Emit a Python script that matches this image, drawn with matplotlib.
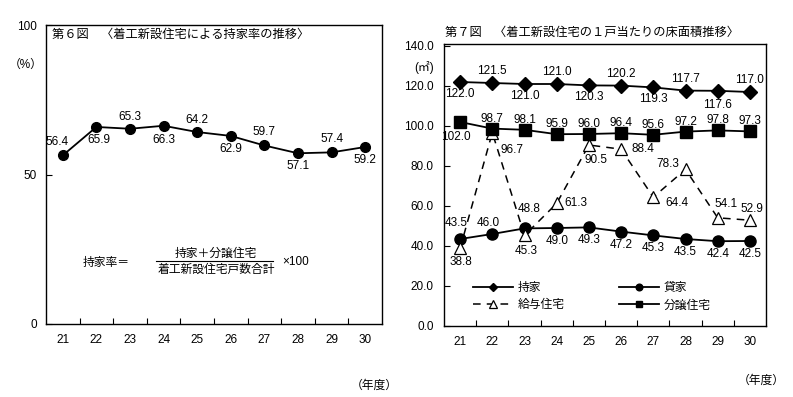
import matplotlib.pyplot as plt
from matplotlib.ticker import FixedLocator

plt.rcParams['font.family'] = ['Liberation Sans', 'Noto Sans CJK JP', 'DejaVu Sans']

years = ['21', '22', '23', '24', '25', '26', '27', '28', '29', '30']

# 第6図 持家率 (%)
owner_rate = [56.4, 65.9, 65.3, 66.3, 64.2, 62.9, 59.7, 57.1, 57.4, 59.2]

# 第7図 床面積 (m2)
mochiie = [122.0, 121.5, 121.0, 121.0, 120.3, 120.2, 119.3, 117.7, 117.6, 117.0]
kashiya = [43.5, 46.0, 48.8, 49.0, 49.3, 47.2, 45.3, 43.5, 42.4, 42.5]
kyuyo = [38.8, 96.7, 45.3, 61.3, 90.5, 88.4, 64.4, 78.3, 54.1, 52.9]
bunjo = [102.0, 98.7, 98.1, 95.9, 96.0, 96.4, 95.6, 97.2, 97.8, 97.3]

fig = plt.figure(figsize=(7.93, 3.97), dpi=100)
W, H = 793, 397


def px(x, y):
    return x / W, 1 - y / H


def setup_cat_axis(ax, ypad):
    ax.set_xlim(-0.5, 9.5)
    ax.set_xticks(range(10))
    ax.set_xticklabels(years, fontsize=8.5)
    ax.xaxis.set_minor_locator(FixedLocator([i + 0.5 for i in range(9)]))
    ax.tick_params(axis='x', which='major', length=0, pad=7)
    ax.tick_params(axis='x', which='minor', direction='in', length=4, width=0.8)
    ax.tick_params(axis='y', direction='in', length=4, width=0.8, labelsize=8.5, pad=ypad)
    for s in ax.spines.values():
        s.set_linewidth(1.0)


def label(ax, x, y, text, dx, dy, fs=8.5):
    # dx, dy in pixels
    ax.annotate(text, (x, y), xytext=(dx * 0.72, dy * 0.72), textcoords='offset points',
                ha='center', va='center', fontsize=fs)


# ---- left chart ----
ax1 = fig.add_axes([46 / W, 1 - 324 / H, (382 - 46) / W, (324 - 25) / H])
x = list(range(10))
ax1.plot(x, owner_rate, color='black', lw=1.3, marker='o', ms=7)
ax1.set_ylim(0, 100)
ax1.set_yticks([0, 50, 100])
ax1.set_yticklabels(['0', '50', '100'])
setup_cat_axis(ax1, 6.5)

offs1 = [(-6, 13), (2, -13), (0, 12), (0, -14), (0, 12), (0, -13), (0, 13), (0, -13), (0, 13), (0, -13)]
for i, v in enumerate(owner_rate):
    label(ax1, i, v, f'{v:.1f}', offs1[i][0], offs1[i][1])

ax1.text(0.018, 0.966, '第６図　〈着工新設住宅による持家率の推移〉',
         transform=ax1.transAxes, fontsize=8.8, ha='left', va='center')
ax1.text(0.18, 0.204, '持家率＝', transform=ax1.transAxes, fontsize=8.5, ha='center', va='center')
ax1.text(0.506, 0.236, '持家＋分譲住宅', transform=ax1.transAxes, fontsize=8.5, ha='center', va='center')
ax1.plot([0.327, 0.676], [0.211, 0.211], transform=ax1.transAxes, color='black', lw=0.8)
ax1.text(0.506, 0.180, '着工新設住宅戸数合計', transform=ax1.transAxes, fontsize=8.5, ha='center', va='center')
ax1.text(0.703, 0.207, '×100', transform=ax1.transAxes, fontsize=8.5, ha='left', va='center')

fig.text(*px(26, 65), '（%）', fontsize=8.5, ha='center', va='center')
fig.text(*px(374, 386), '（年度）', fontsize=8.5, ha='center', va='center')

# ---- right chart ----
ax2 = fig.add_axes([444 / W, 1 - 326 / H, (766 - 444) / W, (326 - 44) / H])
l1, = ax2.plot(x, mochiie, color='black', lw=1.3, marker='D', ms=7, label='持家')
l2, = ax2.plot(x, kashiya, color='black', lw=1.3, marker='o', ms=8, label='貸家')
l3, = ax2.plot(x, kyuyo, color='black', lw=1.1, ls=(0, (5, 4)), marker='^', ms=9,
               mfc='white', mec='black', mew=0.9, label='給与住宅')
l4, = ax2.plot(x, bunjo, color='black', lw=1.3, marker='s', ms=8, label='分譲住宅')
ax2.set_ylim(0, 141)
ax2.set_yticks(range(0, 141, 20))
ax2.set_yticklabels([f'{t:.1f}' for t in range(0, 141, 20)])
setup_cat_axis(ax2, 7.5)

offs_m = [(0, -12), (0, 12), (0, -12), (0, 12), (0, -12), (0, 12), (0, -12), (0, 12), (0, -14), (0, 12)]
offs_b = [(-4, -15), (0, 10), (0, 10), (0, 10), (0, 10), (0, 10), (0, 10), (0, 10), (0, 10), (0, 10)]
offs_k = [(1, -14), (20, -17), (2, -16), (19, 0), (7, -15), (22, 0), (24, -6), (-18, 5), (8, 14), (2, 11)]
offs_s = [(-4, 16), (-4, 11), (5, 19), (0, -13), (0, -13), (0, -13), (0, -13), (0, -13), (0, -13), (0, -13)]
for i in range(10):
    label(ax2, i, mochiie[i], f'{mochiie[i]:.1f}', *offs_m[i])
    label(ax2, i, bunjo[i], f'{bunjo[i]:.1f}', *offs_b[i])
    label(ax2, i, kyuyo[i], f'{kyuyo[i]:.1f}', *offs_k[i])
    label(ax2, i, kashiya[i], f'{kashiya[i]:.1f}', *offs_s[i])

ax2.legend(handles=[l1, l3, l2, l4], ncol=2, frameon=False, fontsize=8.5,
           loc='lower left', bbox_to_anchor=(0.075, 0.035), borderaxespad=0,
           handlelength=3.4, handletextpad=0.4, columnspacing=4.6, markerscale=0.6,
           labelspacing=0.45)

fig.text(*px(445, 33), '第７図　〈着工新設住宅の１戸当たりの床面積推移〉', fontsize=8.8, ha='left', va='center')
fig.text(*px(424, 67), '(㎡)', fontsize=8.5, ha='center', va='center')
fig.text(*px(761, 381), '（年度）', fontsize=8.5, ha='center', va='center')

fig.savefig('out.png', dpi=100)
